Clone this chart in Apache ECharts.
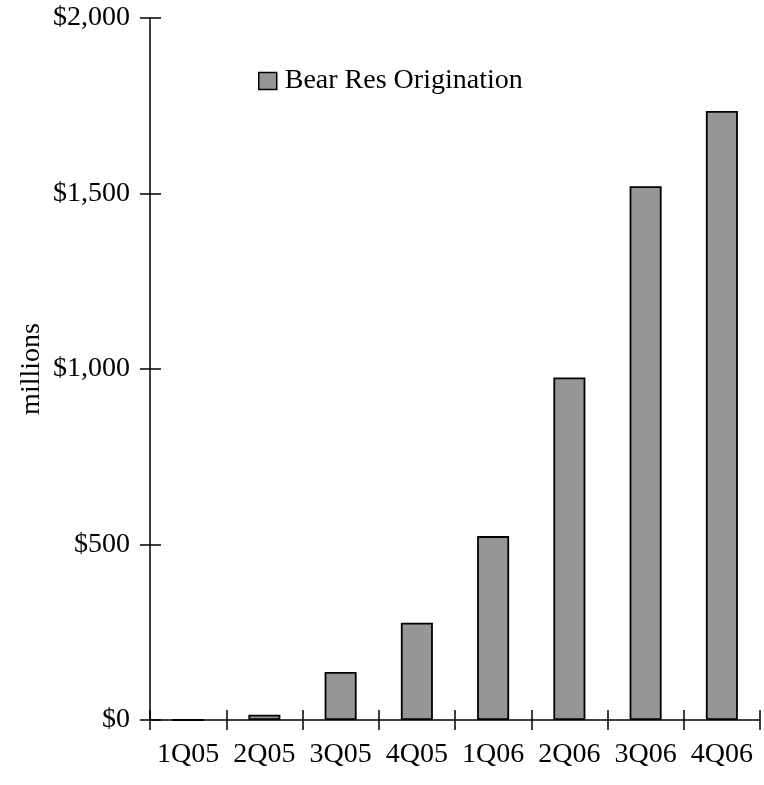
<!DOCTYPE html>
<html>
<head>
<meta charset="utf-8">
<script src="https://cdn.jsdelivr.net/npm/echarts@6/dist/echarts.min.js"></script>
<style>
html,body{margin:0;padding:0;background:#fff;}
#chart{width:764px;height:785px;}
</style>
</head>
<body>
<div id="chart"></div>
<script>
const categories = ['1Q05','2Q05','3Q05','4Q05','1Q06','2Q06','3Q06','4Q06'];
const originationValues = [0, 15, 137, 277, 524, 976, 1521, 1735];
const seriesName = 'Bear Res Origination';
const yTicks = [0, 500, 1000, 1500, 2000];

const FONT = '"Liberation Serif", "Times New Roman", serif';
const FS = 28;
const chart = echarts.init(document.getElementById('chart'));
const fmt = v => '$' + v.toLocaleString('en-US');

chart.setOption({
  animation: false,
  backgroundColor: '#ffffff',
  grid: { left: 150, right: 4, top: 18, bottom: 65, containLabel: false },
  legend: {
    data: [{ name: seriesName, icon: 'rect' }],
    left: 253, top: 62,
    itemWidth: 18, itemHeight: 17, itemGap: 8,
    textStyle: { fontFamily: FONT, fontSize: FS, color: '#000', padding: [0, 0, 0, 3] },
    itemStyle: { borderColor: '#000', borderWidth: 1.5 }
  },
  xAxis: [{
    type: 'category', data: categories, position: 'bottom',
    axisLine: { lineStyle: { color: '#000', width: 1.5 } },
    axisTick: { show: true, length: 10, lineStyle: { color: '#000', width: 1.5 } },
    axisLabel: { fontFamily: FONT, fontSize: FS, color: '#000', margin: 21, interval: 0 }
  }, {
    type: 'category', data: categories, position: 'bottom',
    axisLine: { show: false },
    axisTick: { show: true, inside: true, length: 10, lineStyle: { color: '#000', width: 1.5 } },
    axisLabel: { show: false }
  }],
  yAxis: [{
    type: 'value', min: yTicks[0], max: yTicks[yTicks.length - 1], interval: 500,
    splitLine: { show: false },
    axisLine: { show: true, lineStyle: { color: '#000', width: 1.5 } },
    axisTick: { show: true, length: 10, lineStyle: { color: '#000', width: 1.5 } },
    axisLabel: { fontFamily: FONT, fontSize: FS, color: '#000', margin: 20, formatter: fmt },
    name: 'millions', nameLocation: 'middle', nameGap: 104, nameRotate: 90,
    nameMoveOverlap: false,
    nameTextStyle: { fontFamily: FONT, fontSize: FS, color: '#000' }
  }, {
    type: 'value', min: yTicks[0], max: yTicks[yTicks.length - 1], interval: 500, position: 'left',
    splitLine: { show: false },
    axisLine: { show: false },
    axisTick: { show: true, inside: true, length: 11, lineStyle: { color: '#000', width: 1.5 } },
    axisLabel: { show: false }
  }],
  series: [{
    name: seriesName, type: 'bar', data: originationValues,
    xAxisIndex: 0, yAxisIndex: 0,
    barWidth: '42%',
    itemStyle: { color: '#969696', borderColor: '#000', borderWidth: 1.8 }
  }]
});
</script>
</body>
</html>
